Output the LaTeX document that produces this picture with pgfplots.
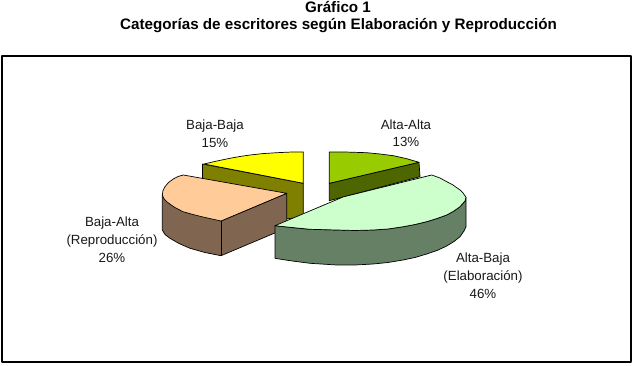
\documentclass[border=0pt]{standalone}
\usepackage{pgfplots}
\pgfplotsset{compat=1.18}
\usepackage{fontspec}
\setmainfont{Liberation Sans}
\definecolor{ygr}{HTML}{FFFF00}
\definecolor{yside}{HTML}{808000}
\definecolor{peach}{HTML}{FFCC99}
\definecolor{pside}{HTML}{806650}
\definecolor{mint}{HTML}{CCFFCC}
\definecolor{mside}{HTML}{668066}
\definecolor{grn}{HTML}{99CC00}
\definecolor{gside}{HTML}{4D6600}
\begin{document}
\begin{tikzpicture}
\begin{axis}[
  scale only axis, width=635pt, height=366pt,
  xmin=0, xmax=635, ymin=0, ymax=366, y dir=reverse,
  hide axis, clip=false,
  every axis plot/.append style={line width=0.7pt, draw=black, line join=round}
]
% frame
\addplot[draw=black, line width=2pt, fill=white] coordinates {(2,56) (631,56) (631,361.5) (2,361.5)} -- cycle;
% yellow side
\addplot[fill=yside] coordinates {(202.5,164) (303.3,183.3) (303.3,216.7) (286,219) (202.5,195)} -- cycle;
% yellow top
\addplot[fill=ygr] coordinates {(303.3,183.3) (303.3,152) (290,152.1) (276.7,152.7) (263,153.6) (250,155) (240,156.5) (230,158.3) (217,161) (204,164)} -- cycle;
% peach side
\addplot[fill=pside] coordinates {(162.3,195) (162.3,230) (165,234.5) (170,238.3) (179,243.5) (190,248.3) (205,252.5) (221,255.7) (286.7,228) (286.7,193.3) (221,221)} -- cycle;
\addplot[draw=black] coordinates {(221,221) (221,255.7)};
% peach top
\addplot[fill=peach] coordinates {(286.7,193.3) (183.3,175) (178,176.5) (173.3,179) (168.5,182.5) (165,186.7) (163,190.5) (162.3,195) (163.8,198.5) (166.7,201.7) (174,207) (183,211.7) (193,214.5) (203,217) (221,221)} -- cycle;
% green side
\addplot[fill=gside] coordinates {(329.3,183.3) (419,162.3) (420,176.7) (329.3,200.7)} -- cycle;
% green top
\addplot[fill=grn] coordinates {(329.3,183.3) (329.3,152) (348,152.1) (366.7,152.7) (380,154) (393.3,155.7) (406,158.5) (419,162.3)} -- cycle;
% mint side
\addplot[fill=mside] coordinates {(275,225.7) (275,258.3) (290,260.7) (310,263.3) (336.7,265) (355,265) (373,264) (388,262.5) (403,260) (415,257.5) (426.7,254) (437,250.5) (446.7,246) (454,241.5) (460,236.7) (464,231) (466,226.7) (466,197.3) (465,201) (460,206.7) (454,211) (446.7,215) (437,218.5) (426.7,221.7) (415,224.5) (403.3,226.7) (388,229) (373.3,230) (355,230.5) (336.7,230) (310,229.3) (290,227.3)} -- cycle;
% mint top
\addplot[fill=mint] coordinates {(275,225.7) (343,197) (431.7,175) (440,178) (446.7,181.7) (453,185) (460,190) (463,193) (466,197.3) (465,201) (460,206.7) (454,211) (446.7,215) (437,218.5) (426.7,221.7) (415,224.5) (403.3,226.7) (388,229) (373.3,230) (355,230.5) (336.7,230) (310,229.3) (290,227.3)} -- cycle;
% labels
\tikzset{lab/.style={font=\fontsize{13.3}{13.3}\selectfont, text=black!90, inner sep=0pt, anchor=center}}
\node[lab] at (axis cs:215,126) {Baja-Baja};
\node[lab] at (axis cs:215,143) {15\%};
\node[lab] at (axis cs:406,125) {Alta-Alta};
\node[lab] at (axis cs:406,142) {13\%};
\node[lab] at (axis cs:112,223) {Baja-Alta};
\node[lab] at (axis cs:112,240.5) {(Reproducción)};
\node[lab] at (axis cs:112,258) {26\%};
\node[lab] at (axis cs:483,259) {Alta-Baja};
\node[lab] at (axis cs:483,277) {(Elaboración)};
\node[lab] at (axis cs:483,294) {46\%};
\node[font=\fontsize{15.2}{15.2}\selectfont\bfseries, inner sep=0pt] at (axis cs:338,7.3) {Gráfico 1};
\node[font=\fontsize{15.2}{15.2}\selectfont\bfseries, inner sep=0pt] at (axis cs:338.5,26) {Categorías de escritores según Elaboración y Reproducción};
\end{axis}
\pgfresetboundingbox
\path[use as bounding box] (0,0) rectangle (635pt,366pt);
\end{tikzpicture}
\end{document}
